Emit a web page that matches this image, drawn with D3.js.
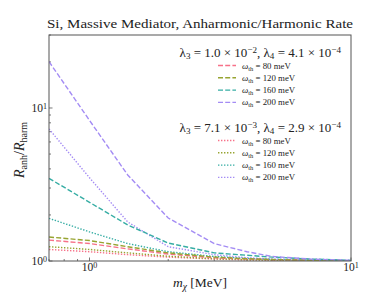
<!DOCTYPE html>
<html>
<head>
<meta charset="utf-8">
<script src="https://cdn.jsdelivr.net/npm/d3@7"></script>
<style>
  body { margin: 0; background: #fff; }
  svg text { font-family: "Liberation Serif", "DejaVu Serif", serif; fill: #222; }
</style>
</head>
<body>
<svg width="390" height="293"></svg>
<script>
const width = 390;
const height = 293;

// dark matter mass grid (MeV)
const masses = [0.7, 1, 1.4, 2, 3, 4, 5, 7, 10];
const omegas = [80, 120, 160, 200];
const colors = ['#f77189', '#97a431', '#36ada4', '#a48cf4'];

// lambda3 = 1.0e-2, lambda4 = 4.1e-4 (dashed)
const ratioA80  = [1.37, 1.30, 1.20, 1.11, 1.05, 1.03, 1.02, 1.01, 1.005];
const ratioA120 = [1.435, 1.36, 1.24, 1.13, 1.06, 1.035, 1.022, 1.011, 1.005];
const ratioA160 = [3.47, 2.42, 1.72, 1.31, 1.13, 1.09, 1.06, 1.03, 1.01];
const ratioA200 = [20.1, 8.3, 3.65, 1.91, 1.30, 1.15, 1.07, 1.03, 1.01];

// lambda3 = 7.1e-3, lambda4 = 2.9e-4 (dotted)
const ratioB80  = [1.19, 1.15, 1.10, 1.06, 1.03, 1.017, 1.01, 1.005, 1.002];
const ratioB120 = [1.24, 1.19, 1.13, 1.075, 1.035, 1.02, 1.012, 1.006, 1.003];
const ratioB160 = [1.90, 1.55, 1.30, 1.15, 1.07, 1.04, 1.025, 1.012, 1.004];
const ratioB200 = [7.3, 3.5, 1.80, 1.24, 1.10, 1.05, 1.03, 1.012, 1.004];

const groupA = [ratioA80, ratioA120, ratioA160, ratioA200];
const groupB = [ratioB80, ratioB120, ratioB160, ratioB200];

const svg = d3.select('svg');
const mLeft = 49, mRight = 351, mTop = 35, mBottom = 261;

const x = d3.scaleLog().domain([0.7, 10]).range([mLeft, mRight]);
const y = d3.scaleLog().domain([1, 30]).range([mBottom, mTop]);

// text with sub/superscripts: parts = [[text, 'sup'|'sub'|null], ...]
function rich(sel, parts, size) {
  parts.forEach(([t, kind]) => {
    const ts = sel.append('tspan').text(t);
    if (kind === 'sup') ts.attr('baseline-shift', '40%').style('font-size', `${size * 0.7}px`);
    else if (kind === 'sub') ts.attr('baseline-shift', '-20%').style('font-size', `${size * 0.7}px`);
  });
  return sel;
}

svg.append('text')
  .attr('x', 200).attr('y', 28)
  .attr('text-anchor', 'middle')
  .attr('textLength', 306).attr('lengthAdjust', 'spacingAndGlyphs')
  .style('font-size', '13.5px')
  .text('Si, Massive Mediator, Anharmonic/Harmonic Rate');

// ticks (inward)
const axisColor = '#555';
const ticksG = svg.append('g').attr('stroke', axisColor).attr('stroke-width', 0.8);
const xMinor = [0.7, 0.8, 0.9, 2, 3, 4, 5, 6, 7, 8, 9];
xMinor.forEach(v => ticksG.append('line').attr('x1', x(v)).attr('x2', x(v)).attr('y1', mBottom).attr('y2', mBottom - 2));
[1, 10].forEach(v => ticksG.append('line').attr('x1', x(v)).attr('x2', x(v)).attr('y1', mBottom).attr('y2', mBottom - 3.5));
const yMinor = [2, 3, 4, 5, 6, 7, 8, 9, 20, 30];
yMinor.forEach(v => ticksG.append('line').attr('y1', y(v)).attr('y2', y(v)).attr('x1', mLeft).attr('x2', mLeft + 2));
[1, 10].forEach(v => ticksG.append('line').attr('y1', y(v)).attr('y2', y(v)).attr('x1', mLeft).attr('x2', mLeft + 3.5));

// tick labels
[[1, '0'], [10, '1']].forEach(([v, e]) => {
  rich(svg.append('text').attr('x', x(v)).attr('y', mBottom + 9.5).attr('text-anchor', 'middle').style('font-size', '11.5px'),
    [['10', null], [e, 'sup']], 11.5);
  rich(svg.append('text').attr('x', mLeft - 2).attr('y', y(v) + 4).attr('text-anchor', 'end').style('font-size', '11.5px'),
    [['10', null], [e, 'sup']], 11.5);
});

// axis labels
const xl = svg.append('text').attr('x', 200).attr('y', 287).attr('text-anchor', 'middle').style('font-size', '13.5px');
xl.append('tspan').style('font-style', 'italic').text('m');
xl.append('tspan').attr('baseline-shift', '-25%').style('font-size', '9.5px').style('font-style', 'italic').text('χ');
xl.append('tspan').text(' [MeV]');

const yl = svg.append('text').attr('transform', `translate(24,150) rotate(-90)`).attr('text-anchor', 'middle').style('font-size', '14px');
yl.append('tspan').style('font-style', 'italic').text('R');
yl.append('tspan').attr('baseline-shift', '-25%').style('font-size', '10px').text('anh');
yl.append('tspan').text('/');
yl.append('tspan').style('font-style', 'italic').text('R');
yl.append('tspan').attr('baseline-shift', '-25%').style('font-size', '10px').text('harm');

// curves
const line = d3.line().x((d, i) => x(masses[i])).y(d => y(d));
svg.append('clipPath').attr('id', 'plotclip').append('rect')
  .attr('x', mLeft).attr('y', mTop).attr('width', mRight - mLeft).attr('height', mBottom - mTop);
const plot = svg.append('g').attr('clip-path', 'url(#plotclip)');

const styles = {
  dashed: '5,2.2',
  dotted: '1.4,1.6'
};

plot.selectAll('.lineB')
  .data(groupB)
  .join('path')
  .classed('lineB', true)
  .attr('d', line)
  .attr('fill', 'none')
  .attr('stroke', (d, i) => colors[i])
  .attr('stroke-width', 1.4)
  .attr('stroke-dasharray', styles.dotted);

plot.selectAll('.lineA')
  .data(groupA)
  .join('path')
  .classed('lineA', true)
  .attr('d', line)
  .attr('fill', 'none')
  .attr('stroke', (d, i) => colors[i])
  .attr('stroke-width', 1.4)
  .attr('stroke-dasharray', styles.dashed);

// frame
svg.append('rect')
  .attr('x', mLeft).attr('y', mTop).attr('width', mRight - mLeft).attr('height', mBottom - mTop)
  .attr('fill', 'none').attr('stroke', axisColor).attr('stroke-width', 1);

// legends
function legend(y0, header, dash) {
  rich(svg.append('text').attr('x', 341).attr('y', y0).attr('text-anchor', 'end').style('font-size', '13px'), header, 13);
  omegas.forEach((w, i) => {
    const yy = y0 + 8.5 + i * 12.3;
    svg.append('line')
      .attr('x1', 218).attr('x2', 236).attr('y1', yy).attr('y2', yy)
      .attr('stroke', colors[i]).attr('stroke-width', 1.4).attr('stroke-dasharray', dash);
    const t = svg.append('text').attr('x', 242).attr('y', yy + 3).style('font-size', '8.8px');
    t.append('tspan').style('font-style', 'italic').text('ω');
    t.append('tspan').attr('baseline-shift', '-25%').style('font-size', '6.5px').text('th');
    t.append('tspan').text(` = ${w} meV`);
  });
}

legend(57, [['λ', null], ['3', 'sub'], [' = 1.0 × 10', null], ['−2', 'sup'], [', λ', null], ['4', 'sub'], [' = 4.1 × 10', null], ['−4', 'sup']], styles.dashed);
legend(132, [['λ', null], ['3', 'sub'], [' = 7.1 × 10', null], ['−3', 'sup'], [', λ', null], ['4', 'sub'], [' = 2.9 × 10', null], ['−4', 'sup']], styles.dotted);
</script>
</body>
</html>
